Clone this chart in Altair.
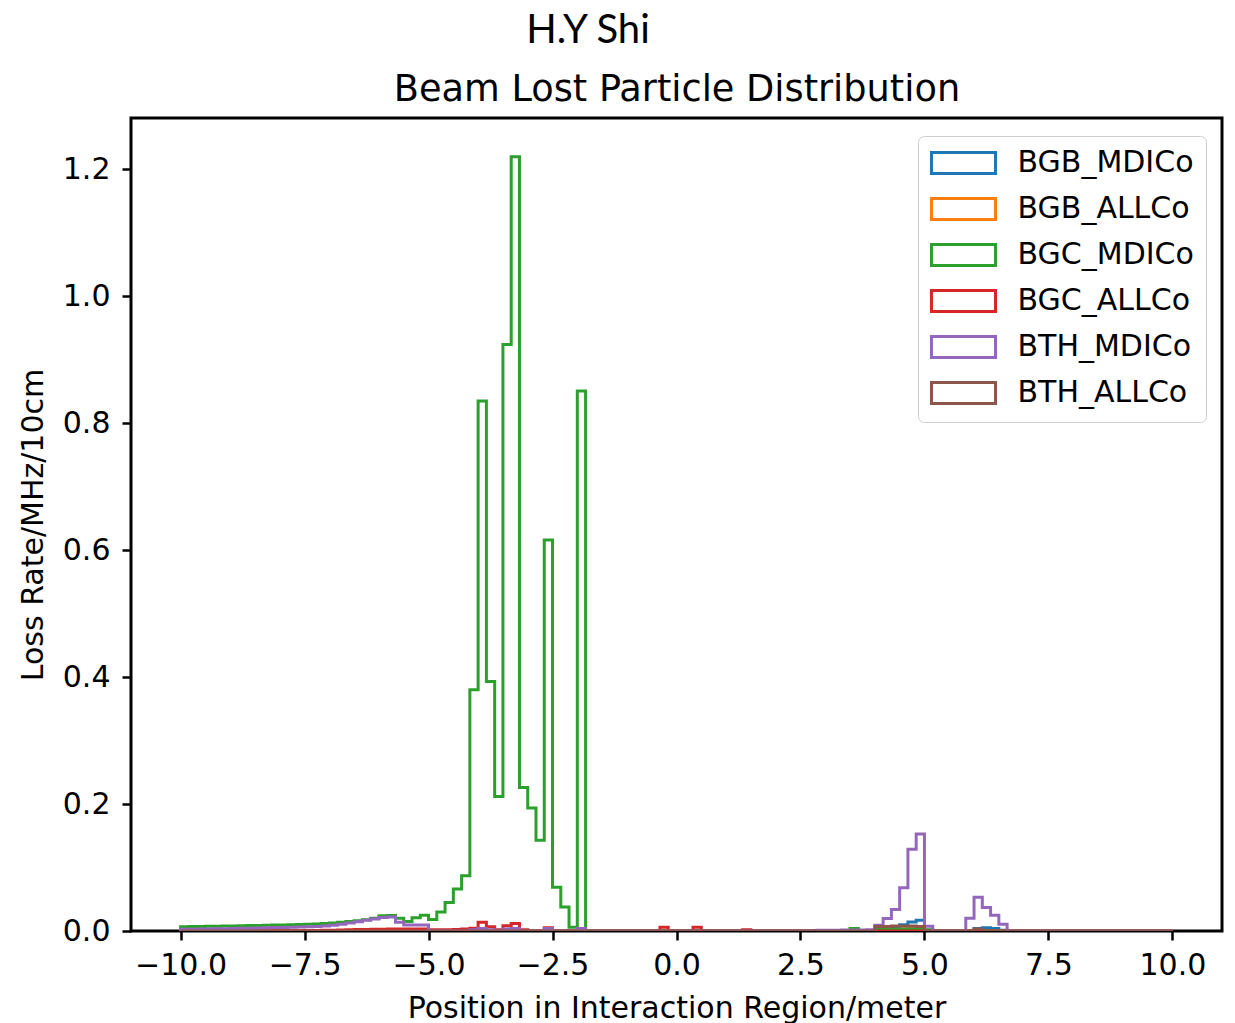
import altair as alt
import pandas as pd

# ---- data ----
SERIES = ["BGB_MDICo", "BGB_ALLCo", "BGC_MDICo", "BGC_ALLCo", "BTH_MDICo", "BTH_ALLCo"]
COLORS = ["#1f77b4", "#ff7f0e", "#2ca02c", "#d62728", "#9467bd", "#8c564b"]

TITLE = "Beam Lost Particle Distribution"
AUTHOR = "H.Y Shi"

BIN_START = -10.0
BIN_COUNT = 120
BIN_WIDTH = 20.0 / BIN_COUNT  # 1/6 m bins

X_TICKS = [-10.0, -7.5, -5.0, -2.5, 0.0, 2.5, 5.0, 7.5, 10.0]
Y_TICKS = [0.0, 0.2, 0.4, 0.6, 0.8, 1.0, 1.2]

# loss rate per bin (120 bins from -10 m to +10 m)
BGB_MDICo = ([0.0] * 85 +
             [0.001, 0.004, 0.010, 0.014, 0.017, 0.001] +
             [0.0] * 5 +
             [0.004, 0.005, 0.004, 0.001] +
             [0.0] * 20)

BGB_ALLCo = ([0.0] * 86 +
             [0.002, 0.003, 0.004, 0.004] +
             [0.0] * 30)

BGC_MDICo = ([0.0068, 0.0070, 0.0072, 0.0074, 0.0076, 0.0078, 0.0080, 0.0083,
              0.0086, 0.0088, 0.0090, 0.0093, 0.0096, 0.0099, 0.0102, 0.0105,
              0.0110, 0.0118, 0.0126, 0.0136, 0.0148, 0.0162, 0.0178, 0.0200,
              0.0240, 0.0245, 0.0200, 0.0150, 0.0210, 0.0250, 0.0180, 0.0300,
              0.0450, 0.0660, 0.0870, 0.3800, 0.8350, 0.3930, 0.2120, 0.9240,
              1.2200, 0.2260, 0.1940, 0.1430, 0.6160, 0.0690, 0.0380, 0.0060,
              0.8510] +
             [0.0] * 32 +
             [0.004] +
             [0.0] * 2 +
             [0.003, 0.003, 0.003, 0.003, 0.003, 0.003, 0.002] +
             [0.0] * 29)

BGC_ALLCo = ([0.0005] * 15 +
             [0.0006, 0.0008, 0.0010, 0.0013, 0.0016, 0.0019, 0.0022, 0.0024,
              0.0026, 0.0028, 0.0030, 0.0030, 0.0030, 0.0030, 0.0030, 0.0020,
              0.0020, 0.0020, 0.0025, 0.0030, 0.0045, 0.0137, 0.0068, 0.0020,
              0.0084, 0.0120, 0.0020, 0.0, 0.0, 0.0050] +
             [0.0] * 13 +
             [0.006, 0.0, 0.0, 0.0, 0.006] +
             [0.0] * 5 +
             [0.002] +
             [0.0] * 51)

BTH_MDICo = ([0.0026, 0.0028, 0.0030, 0.0032, 0.0034, 0.0036, 0.0039, 0.0042,
              0.0045, 0.0048, 0.0051, 0.0054, 0.0057, 0.0060, 0.0063, 0.0066,
              0.0072, 0.0080, 0.0092, 0.0108, 0.0126, 0.0146, 0.0168, 0.0190,
              0.0212, 0.0222, 0.0137, 0.0095, 0.0095, 0.0095, 0.0, 0.0,
              0.0, 0.0, 0.0, 0.0020, 0.0040, 0.0020, 0.0, 0.0030,
              0.0040, 0.0, 0.0, 0.0, 0.0040, 0.0, 0.0, 0.0,
              0.0040] +
             [0.0] * 28 +
             [0.0010, 0.0010, 0.0012, 0.0015, 0.0015, 0.0015, 0.0020,
              0.0090, 0.0195, 0.0340, 0.0680, 0.1290, 0.1530, 0.0075,
              0.0, 0.0, 0.0, 0.0, 0.0200, 0.0530, 0.0370, 0.0250, 0.0105] +
             [0.0] * 20)

BTH_ALLCo = ([0.0] * 84 +
             [0.007, 0.007, 0.008, 0.008, 0.008, 0.007] +
             [0.0] * 6 +
             [0.003] +
             [0.0] * 23)

VALUES = [BGB_MDICo, BGB_ALLCo, BGC_MDICo, BGC_ALLCo, BTH_MDICo, BTH_ALLCo]

# ---- build step outline table (like matplotlib histtype='step') ----
rows = []
for name, vals in zip(SERIES, VALUES):
    rows.append({"series": name, "x": BIN_START, "y": 0.0, "ord": 0})
    for k, v in enumerate(vals):
        rows.append({"series": name, "x": BIN_START + k * BIN_WIDTH, "y": v, "ord": k + 1})
    rows.append({"series": name, "x": BIN_START + BIN_COUNT * BIN_WIDTH, "y": 0.0, "ord": BIN_COUNT + 1})
df = pd.DataFrame(rows)

FONT = "DejaVu Sans"
# wide rectangle swatch (64 x 21 px at symbolSize 441)
LEGEND_PATH = "M-3.05,-1H3.05V1H-3.05Z"

lines = alt.Chart(df).mark_line(interpolate="step-after", strokeWidth=3, clip=True).encode(
    x=alt.X("x:Q",
            scale=alt.Scale(domain=[-11, 11], nice=False, zero=False),
            axis=alt.Axis(values=X_TICKS,
                          labelExpr="replace(format(datum.value, '.1f'), '-', '\u2212')",
                          title="Position in Interaction Region/meter")),
    y=alt.Y("y:Q",
            scale=alt.Scale(domain=[0, 1.281], nice=False),
            axis=alt.Axis(values=Y_TICKS, format=".1f", title="Loss Rate/MHz/10cm")),
    color=alt.Color("series:N",
                    scale=alt.Scale(domain=SERIES, range=COLORS),
                    legend=alt.Legend(title=None, orient="none", legendX=787, legendY=18,
                                      symbolType=LEGEND_PATH, symbolSize=441,
                                      symbolOffset=18.5,
                                      symbolStrokeWidth=3, symbolFillColor="white",
                                      labelFont=FONT, labelFontSize=30, labelColor="black",
                                      labelLimit=400, labelOffset=39, rowPadding=12,
                                      padding=12, fillColor="white", strokeColor="#cccccc",
                                      cornerRadius=6)),
    order=alt.Order("ord:Q"),
)

texts = pd.DataFrame({"t": [AUTHOR, TITLE]})

author = alt.Chart(texts).transform_filter(alt.datum.t == AUTHOR).mark_text(
    font="Lato", fontSize=40, align="center", baseline="alphabetic", color="black"
).encode(text="t:N", x=alt.value(457), y=alt.value(-75))

title = alt.Chart(texts).transform_filter(alt.datum.t == TITLE).mark_text(
    font=FONT, fontSize=36.7, align="center", baseline="alphabetic", color="black"
).encode(text="t:N", x=alt.value(546), y=alt.value(-17))

chart = alt.layer(lines, author, title).properties(
    width=1091, height=813,
    autosize=alt.AutoSizeParams(type="none"),
    padding={"left": 123, "top": 110, "right": 5, "bottom": 100},
).configure_view(
    stroke="black", strokeWidth=3
).configure_axis(
    labelFont=FONT, labelFontSize=30, labelColor="black",
    titleFont=FONT, titleFontSize=30, titleFontWeight="normal", titleColor="black",
    tickColor="black", tickSize=9, tickWidth=2.5, domain=False, grid=False,
).configure_axisY(
    labelPadding=12, titlePadding=14
).configure_axisX(
    labelPadding=10, titlePadding=13
)

chart.save("out.html", embed_options={"renderer": "svg", "actions": False})
